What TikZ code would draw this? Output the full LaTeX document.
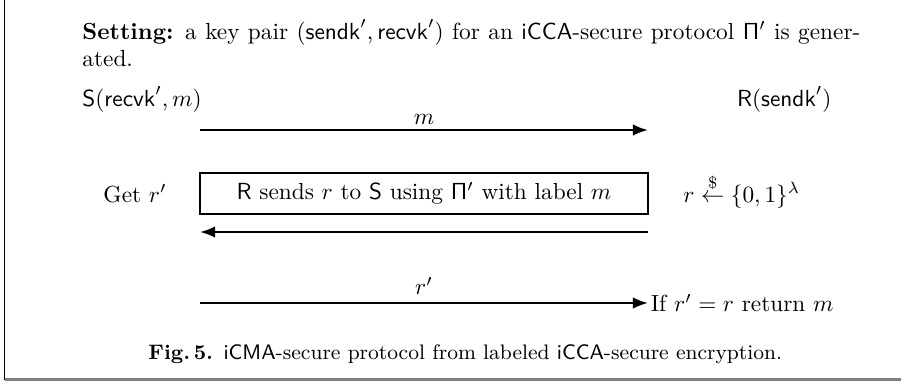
\documentclass[tikz,border=0pt]{standalone}
\usepackage{amsmath}
\usetikzlibrary{arrows.meta}
\begin{document}
\begin{tikzpicture}[x=0.4292pt,y=-0.4292pt,
  msg/.style={line width=1pt,-{Latex[length=6.5pt,width=5pt]}},
  txt/.style={inner sep=0pt},
  framebox/.style={draw,line width=0.5pt,minimum width=192.3pt,minimum height=17.6pt,inner sep=0pt}]
\useasboundingbox (0,0) rectangle (901,384);
\coordinate (tl) at (4.5,0);
\coordinate (bl) at (4.5,379.5);
\coordinate (br) at (901,379.5);
\draw[line width=0.7pt] (tl) -- (bl);
\draw[gray,line width=0.9pt] (bl) -- (br);
\node[txt,anchor=base west] (setting) at (82,39) {\parbox[t]{333.9pt}{\baselineskip=11.8pt\textbf{Setting:} a key pair $(\mathsf{sendk}',\mathsf{recvk}')$ for an \textsf{iCCA}-secure protocol $\mathsf{\Pi}'$ is generated.}};
\node[txt,anchor=base west] (S) at (82,106) {$\mathsf{S}(\mathsf{recvk}',m)$};
\node[txt,anchor=base east] (R) at (832,106) {$\mathsf{R}(\mathsf{sendk}')$};
\coordinate (a1s) at (200,130);
\coordinate (a1e) at (648,130);
\draw[msg] (a1s) -- node[above,inner sep=2pt] (lm) {$m$} (a1e);
\node[txt,anchor=base west] (get) at (103,202) {Get $r'$};
\node[framebox] (box) at (424,193.5) {$\mathsf{R}$ sends $r$ to $\mathsf{S}$ using $\mathsf{\Pi}'$ with label $m$};
\node[txt,anchor=base west] (samp) at (683,202) {$r \stackrel{\$}{\leftarrow} \{0,1\}^\lambda$};
\coordinate (a2s) at (648,232);
\coordinate (a2e) at (200,232);
\draw[msg] (a2s) -- (a2e);
\coordinate (a3s) at (200,303);
\node[anchor=west,inner sep=1pt] (if) at (648,303) {If $r'=r$ return $m$};
\draw[msg] (a3s) -- node[above,inner sep=3pt] (lr) {$r'$} (if.west);
\node[txt,anchor=base west] (cap) at (148,359) {\small\textbf{Fig.\,5.}\enspace\textsf{iCMA}-secure protocol from labeled \textsf{iCCA}-secure encryption.};
\end{tikzpicture}
\end{document}
